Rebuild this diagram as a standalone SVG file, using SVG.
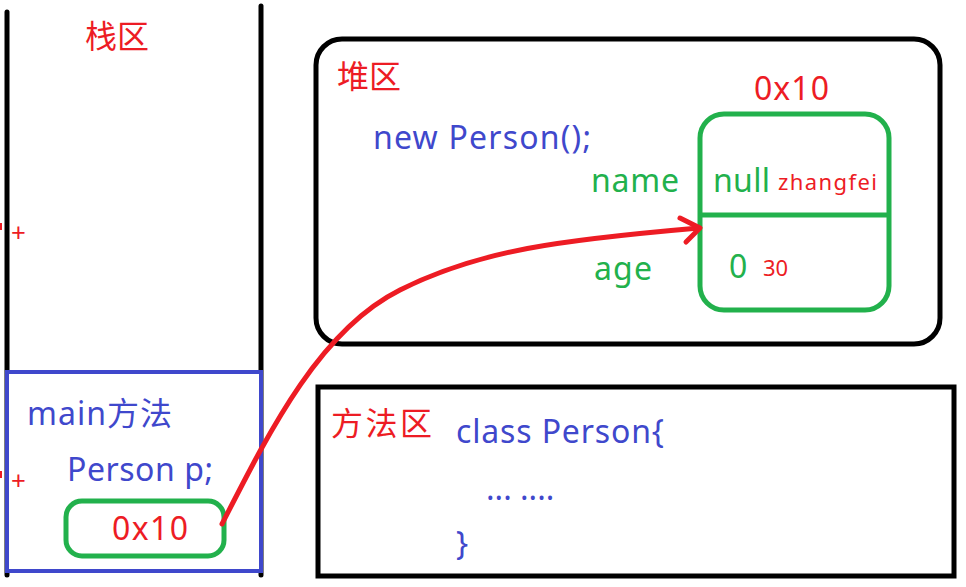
<svg xmlns="http://www.w3.org/2000/svg" width="966" height="587" viewBox="0 0 966 587">
<style>
text{font-family:"Noto Sans","Noto Sans CJK SC",sans-serif;}
.r{fill:#ed1c24}
.b{fill:#3f48cc}
.g{fill:#22b14c}
.big{font-size:32px}
.cjk{font-size:32px}
.sm{font-size:22px}
.plus{font-size:26px}
.blk{fill:none;stroke:#000;stroke-width:5}
.grn{fill:none;stroke:#22b14c;stroke-width:5}
</style>
<rect width="966" height="587" fill="#fff"/>
<g id="stack">
<line x1="7" y1="12" x2="7" y2="575" stroke="#000" stroke-width="5" stroke-linecap="round"/>
<line x1="261" y1="6" x2="261" y2="575" stroke="#000" stroke-width="5" stroke-linecap="round"/>
<text x="85" y="48" class="r cjk">栈区</text>
<text x="11" y="242" class="r plus">+</text>
<rect x="0" y="223" width="2" height="7" fill="#ed1c24"/>
</g>
<g id="main">
<rect x="7" y="372" width="254" height="199" fill="#fff" stroke="#3f48cc" stroke-width="4"/>
<text x="27" y="425" class="b big" textLength="145">main方法</text>
<text x="67" y="481" class="b big" textLength="146">Person p;</text>
<text x="11" y="490" class="r plus">+</text>
<rect x="0" y="471" width="2" height="7" fill="#ed1c24"/>
</g>
<g id="ref">
<rect x="66" y="501" width="158" height="55" rx="16" class="grn"/>
<text x="112" y="540" class="r big" textLength="76">0x10</text>
</g>
<g id="heap">
<rect x="316" y="39" width="624" height="305" rx="26" class="blk"/>
<text x="337" y="88" class="r cjk">堆区</text>
<text x="373" y="149" class="b big" textLength="218">new Person();</text>
<text x="754" y="100" class="r big" textLength="75">0x10</text>
<text x="591" y="192" class="g big" textLength="88">name</text>
<text x="594" y="280" class="g big" textLength="58">age</text>
</g>
<g id="object">
<rect x="700" y="114" width="189" height="196" rx="24" class="grn"/>
<line x1="700" y1="215" x2="889" y2="215" stroke="#22b14c" stroke-width="5"/>
<text x="713" y="192" class="g big" textLength="57">null</text>
<text x="778" y="190" class="r sm" textLength="99">zhangfei</text>
<text x="763" y="276" class="r sm">30</text>
<text x="729" y="278" class="g big" textLength="18">0</text>
</g>
<g id="method">
<rect x="318" y="387" width="636" height="189" class="blk"/>
<text x="331" y="435" class="r cjk" textLength="101">方法区</text>
<text x="456" y="443" class="b big" textLength="208">class Person{</text>
<text x="486" y="500" class="b big">... ....</text>
<text x="456" y="555" class="b big">}</text>
</g>
<g id="connectors">
<path d="M222,524 C270,430 320,330 400,290 S560,240 699,228" fill="none" stroke="#ed1c24" stroke-width="5" stroke-linecap="round"/>
<path d="M680,218 L700,228 L686,242" fill="none" stroke="#ed1c24" stroke-width="5" stroke-linecap="round" stroke-linejoin="round"/>
</g>
</svg>
